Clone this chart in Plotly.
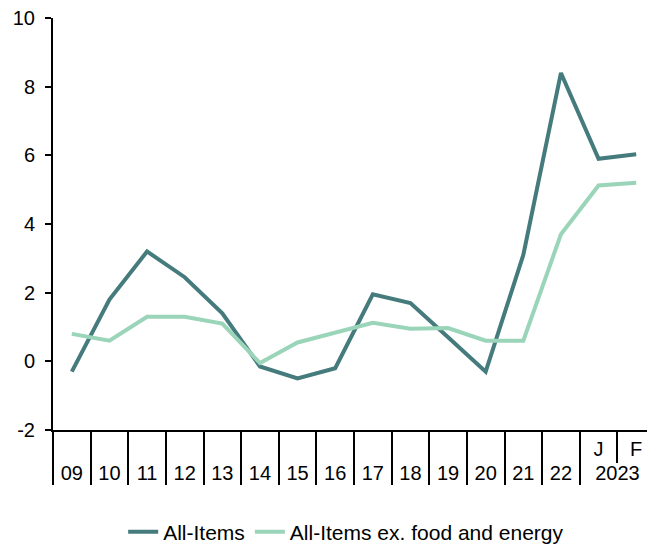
import plotly.graph_objects as go

outer = ["09", "10", "11", "12", "13", "14", "15", "16", "17", "18", "19", "20", "21", "22", "2023", "2023"]
inner = ["", "", "", "", "", "", "", "", "", "", "", "", "", "", "J", "F"]
all_items = [-0.3, 1.8, 3.2, 2.45, 1.4, -0.15, -0.5, -0.2, 1.95, 1.7, 0.7, -0.3, 3.1, 8.4, 5.9, 6.03]
core = [0.8, 0.6, 1.3, 1.3, 1.1, -0.05, 0.55, 0.85, 1.12, 0.95, 0.97, 0.6, 0.6, 3.7, 5.12, 5.2]
y_ticks = [-2, 0, 2, 4, 6, 8, 10]
y_tick_text = ["-2", "0", "2", "4", "6", "8", "10"]

fig = go.Figure()
fig.add_trace(go.Scatter(x=[outer, inner], y=all_items, mode="lines", name="All-Items",
                         line=dict(color="#457B7D", width=4)))
fig.add_trace(go.Scatter(x=[outer, inner], y=core, mode="lines", name="All-Items ex. food and energy",
                         line=dict(color="#9AD5B9", width=4)))

fig.update_layout(
    width=647, height=539,
    margin=dict(l=45, r=0, t=10, b=117, autoexpand=False),
    plot_bgcolor="white", paper_bgcolor="white",
    font=dict(family="Liberation Sans, Arial, sans-serif", size=20, color="black"),
    showlegend=True,
    legend=dict(orientation="h", x=0.487, xanchor="center", y=-0.198, yanchor="top",
                font=dict(size=21), itemwidth=30),
    xaxis=dict(type="multicategory", range=[-0.5, 15.5],
               showline=True, linecolor="black", linewidth=2,
               ticks="outside", tickson="boundaries", ticklen=31, tickwidth=2, tickcolor="black",
               showdividers=True, dividercolor="black", dividerwidth=2,
               showgrid=False, zeroline=False),
    yaxis=dict(range=[-2, 10], tickvals=y_ticks, ticktext=y_tick_text,
               showline=True, linecolor="black", linewidth=2,
               ticks="outside", ticklen=6, tickwidth=2, tickcolor="black",
               ticklabelstandoff=6, ticklabeloverflow="allow",
               showgrid=False, zeroline=False),
)

fig.write_html("out.html")
